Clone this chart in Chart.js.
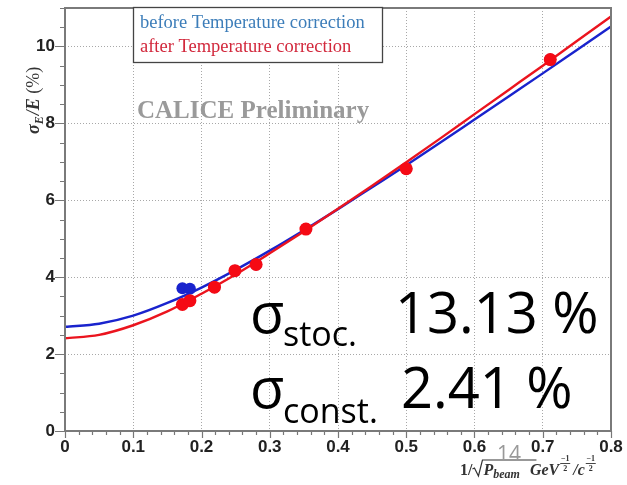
<!DOCTYPE html>
<html>
<head>
<meta charset="utf-8">
<title>Energy resolution</title>
<script src="https://cdn.jsdelivr.net/npm/chart.js@4/dist/chart.umd.min.js"></script>
<style>
  html, body { margin: 0; padding: 0; background: #fff; }
  #wrap { width: 627px; height: 485px; }
</style>
</head>
<body>
<div id="wrap"><canvas id="reso" width="627" height="485"></canvas></div>
<script>
// 1/sqrt(P_beam) of each run and the measured resolution (%)
const xBeam = [0.172, 0.183, 0.219, 0.249, 0.280, 0.353, 0.500, 0.711]
const resAfter = [3.29, 3.39, 3.74, 4.17, 4.33, 5.25, 6.82, 9.66]
const resBefore = [3.71, 3.70, 3.74, 4.17, 4.33, 5.25, 6.82, 9.66]

// fitted curves sampled along the x range
const fitX = [0, 0.05, 0.1, 0.15, 0.2, 0.25, 0.3, 0.35, 0.4, 0.45, 0.5, 0.55, 0.6, 0.65, 0.7, 0.75, 0.8]
const fitAfter = [2.41, 2.50, 2.75, 3.11, 3.57, 4.07, 4.62, 5.19, 5.78, 6.38, 6.99, 7.61, 8.24, 8.87, 9.50, 10.14, 10.78]
const fitBefore = [2.71, 2.79, 3.00, 3.33, 3.73, 4.19, 4.69, 5.22, 5.77, 6.34, 6.91, 7.50, 8.10, 8.70, 9.30, 9.91, 10.52]

const fitTerms = ['13.13 %', '2.41 %']
const legendLines = ['before Temperature correction', 'after Temperature correction']

const xTicks = [0, 0.1, 0.2, 0.3, 0.4, 0.5, 0.6, 0.7, 0.8]
const yTicks = [0, 2, 4, 6, 8, 10]

const BLUE = 'rgb(25, 35, 205)'
const RED = 'rgb(235, 20, 30)'
const PT_RED = 'rgb(245, 10, 20)'

const pts = (xs, ys) => xs.map((v, i) => ({ x: v, y: ys[i] }))

const decor = {
  id: 'decor',
  afterDraw(chart) {
    const { ctx, chartArea: a, scales: { x, y } } = chart
    ctx.save()

    // minor / major tick marks
    ctx.strokeStyle = '#777'
    ctx.lineWidth = 1.2
    ctx.beginPath()
    for (let i = 0; i <= 40; i++) {
      const px = Math.round(x.getPixelForValue(i * 0.02)) + 0.5
      const len = i % 5 === 0 ? 7 : 4
      ctx.moveTo(px, a.bottom); ctx.lineTo(px, a.bottom + len)
    }
    for (let i = 0; i <= 22; i++) {
      const py = Math.round(y.getPixelForValue(i * 0.5)) + 0.5
      const len = i % 4 === 0 ? 10 : 5
      ctx.moveTo(a.left, py); ctx.lineTo(a.left - len, py)
    }
    ctx.stroke()

    // frame
    ctx.strokeStyle = '#7a7a7a'
    ctx.lineWidth = 2
    ctx.strokeRect(a.left, a.top, a.right - a.left, a.bottom - a.top)

    // legend box
    ctx.fillStyle = '#fff'
    ctx.fillRect(133, 7, 249, 55)
    ctx.strokeStyle = '#444'
    ctx.lineWidth = 1.3
    ctx.strokeRect(133.5, 7.5, 249, 55)
    ctx.font = '18.5px "Liberation Serif"'
    ctx.textBaseline = 'alphabetic'
    ctx.textAlign = 'left'
    ctx.fillStyle = 'rgb(60, 125, 185)'
    ctx.fillText(legendLines[0], 140, 28)
    ctx.fillStyle = 'rgb(210, 40, 60)'
    ctx.fillText(legendLines[1], 140, 52)

    // preliminary stamp
    ctx.font = 'bold 25px "Liberation Serif"'
    ctx.fillStyle = '#9a9a9a'
    ctx.fillText('CALICE Preliminary', 137, 118)

    // y axis title
    ctx.save()
    ctx.translate(39, 134)
    ctx.rotate(-Math.PI / 2)
    ctx.fillStyle = '#333'
    let cx = 0
    ctx.font = 'bold italic 18px "Liberation Serif"'
    ctx.fillText('σ', cx, 0); cx += ctx.measureText('σ').width
    ctx.font = 'bold italic 12px "Liberation Serif"'
    ctx.fillText('E', cx, 4); cx += ctx.measureText('E').width + 1
    ctx.font = 'bold italic 18px "Liberation Serif"'
    ctx.fillText('/E', cx, 0); cx += ctx.measureText('/E ').width
    ctx.font = '18px "Liberation Serif"'
    ctx.fillText('(%)', cx, 0)
    ctx.restore()

    // x axis title
    ctx.fillStyle = '#333'
    cx = 460
    const by = 475
    ctx.font = 'bold 16px "Liberation Serif"'
    ctx.fillText('1/', cx, by); cx += ctx.measureText('1/').width
    ctx.strokeStyle = '#333'
    ctx.lineWidth = 1.2
    ctx.beginPath()
    ctx.moveTo(cx, by - 6); ctx.lineTo(cx + 2, by - 7); ctx.lineTo(cx + 6, by + 1)
    ctx.lineTo(cx + 10, by - 15); ctx.lineTo(cx + 64, by - 15)
    ctx.stroke()
    cx += 11
    ctx.font = 'bold italic 16px "Liberation Serif"'
    ctx.fillText('P', cx, by); cx += ctx.measureText('P').width
    ctx.font = 'bold italic 12px "Liberation Serif"'
    ctx.fillText('beam', cx, by + 3); cx += ctx.measureText('beam').width + 10
    ctx.font = 'bold italic 16px "Liberation Serif"'
    ctx.fillText('GeV', cx, by); cx += ctx.measureText('GeV').width
    const frac = (fx) => {
      ctx.font = 'bold 8px "Liberation Serif"'
      ctx.textAlign = 'center'
      ctx.fillText('−1', fx + 5, by - 14)
      ctx.fillText('2', fx + 5, by - 4)
      ctx.fillRect(fx, by - 12, 10, 0.9)
      ctx.textAlign = 'left'
    }
    frac(cx + 1); cx += 14
    ctx.font = 'bold italic 16px "Liberation Serif"'
    ctx.fillText('/c', cx, by); cx += ctx.measureText('/c').width
    frac(cx + 1)

    // page number
    ctx.font = '21px "Open Sans"'
    ctx.fillStyle = '#999'
    ctx.fillText('14', 497, 461)

    // fit parameters
    ctx.fillStyle = '#000'
    ctx.font = '56px "Open Sans"'
    ctx.fillText('σ', 250, 333)
    ctx.fillText(fitTerms[0], 395, 333)
    ctx.fillText('σ', 250, 408)
    ctx.fillText(fitTerms[1], 401, 408)
    ctx.font = '34px "Open Sans"'
    ctx.fillText('stoc.', 283, 346)
    ctx.fillText('const.', 283, 423)

    ctx.restore()
  }
}

const ctx = document.getElementById('reso').getContext('2d')
new Chart(ctx, {
  type: 'scatter',
  data: {
    datasets: [
      {
        label: 'after fit', data: pts(fitX, fitAfter), showLine: true,
        borderColor: RED, borderWidth: 2.4, pointRadius: 0, cubicInterpolationMode: 'monotone', order: 2
      },
      {
        label: 'before fit', data: pts(fitX, fitBefore), showLine: true,
        borderColor: BLUE, borderWidth: 2.4, pointRadius: 0, cubicInterpolationMode: 'monotone', order: 3
      },
      {
        label: 'after', data: pts(xBeam, resAfter), backgroundColor: PT_RED,
        borderWidth: 0, pointRadius: 6.5, order: 1
      },
      {
        label: 'before', data: pts(xBeam, resBefore), backgroundColor: BLUE,
        borderWidth: 0, pointRadius: 6, order: 4
      }
    ]
  },
  options: {
    responsive: false,
    animation: false,
    devicePixelRatio: 1,
    layout: { padding: { left: 0, right: 16, top: 8, bottom: 0 } },
    plugins: { legend: { display: false }, tooltip: { enabled: false } },
    scales: {
      x: {
        type: 'linear', min: 0, max: 0.8,
        afterBuildTicks: (s) => { s.ticks = xTicks.map(v => ({ value: v })) },
        afterFit: (s) => { s.height = 54; s.paddingLeft = 0; s.paddingRight = 0 },
        ticks: { padding: 6, color: '#222', font: { family: 'Liberation Sans', size: 17, weight: 'bold' } },
        grid: {
          drawTicks: false,
          color: (c) => (c.tick && c.tick.value > 0 && c.tick.value < 0.8) ? '#a8a8a8' : 'rgba(0,0,0,0)'
        },
        border: { display: false, dash: [1, 2] }
      },
      y: {
        type: 'linear', min: 0, max: 11,
        afterBuildTicks: (s) => { s.ticks = yTicks.map(v => ({ value: v })) },
        afterFit: (s) => { s.width = 65; s.paddingTop = 0; s.paddingBottom = 0 },
        ticks: { padding: 10, color: '#222', font: { family: 'Liberation Sans', size: 17, weight: 'bold' } },
        grid: {
          drawTicks: false,
          color: (c) => (c.tick && c.tick.value > 0) ? '#a8a8a8' : 'rgba(0,0,0,0)'
        },
        border: { display: false, dash: [1, 2] }
      }
    }
  },
  plugins: [decor]
})
</script>
</body>
</html>
